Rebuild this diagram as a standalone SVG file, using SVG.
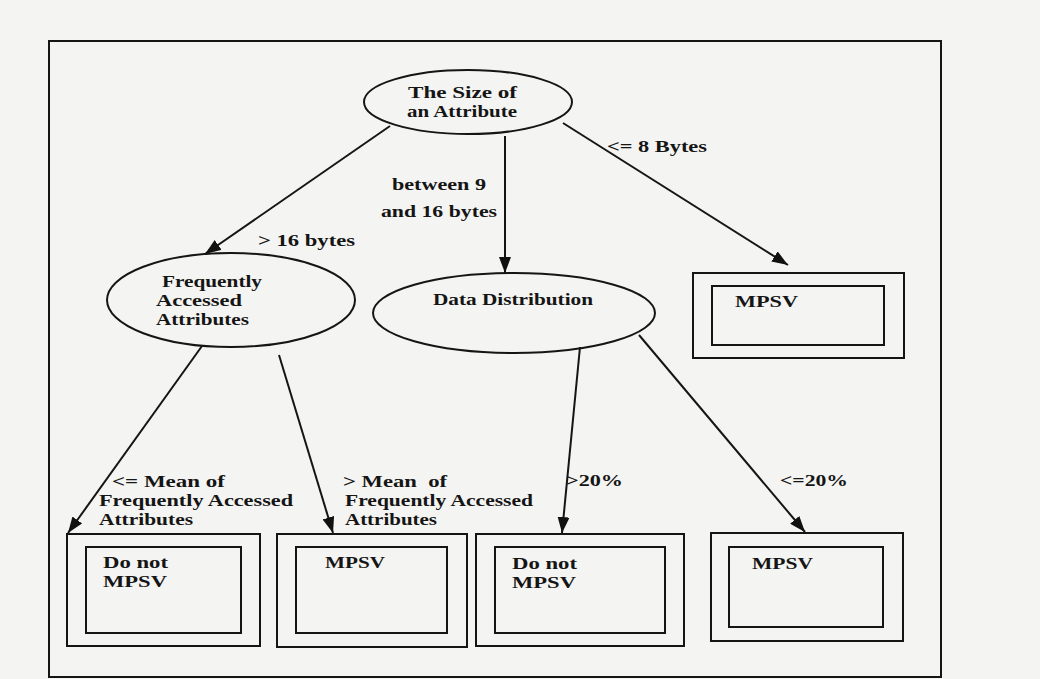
<svg xmlns="http://www.w3.org/2000/svg" width="1040" height="679" viewBox="0 0 1040 679">
<defs>
<marker id="ah" viewBox="0 0 16 12" refX="16" refY="6" markerWidth="16" markerHeight="12" markerUnits="userSpaceOnUse" orient="auto">
<path d="M0,0 L16,6 L0,12 z" fill="#111"/>
</marker>
<style>
.t{font-family:"Liberation Serif","Times New Roman",serif;font-weight:bold;font-size:17px;fill:#151515}
.s{fill:none;stroke:#151515;stroke-width:2}
.c{fill:none;stroke:#151515;stroke-width:2;marker-end:url(#ah)}
</style>
</defs>
<rect x="0" y="0" width="1040" height="679" fill="#f4f4f2"/>
<rect id="frame" x="49" y="41" width="892" height="636" class="s"/>

<g id="connectors">
<line x1="390" y1="126" x2="205" y2="254" class="c"/>
<line x1="505" y1="136" x2="505" y2="273" class="c"/>
<line x1="563" y1="123" x2="788" y2="265" class="c"/>
<line x1="202" y1="346" x2="68" y2="533" class="c"/>
<line x1="279" y1="355" x2="333" y2="533" class="c"/>
<line x1="580" y1="347" x2="562" y2="533" class="c"/>
<line x1="639" y1="335" x2="805" y2="532" class="c"/>
<text class="t" x="607" y="152" textLength="100" lengthAdjust="spacingAndGlyphs">&lt;= 8 Bytes</text>
<text class="t" x="392" y="190" textLength="94" lengthAdjust="spacingAndGlyphs">between 9</text>
<text class="t" x="381" y="217" textLength="116" lengthAdjust="spacingAndGlyphs">and 16 bytes</text>
<text class="t" x="258" y="246" textLength="97" lengthAdjust="spacingAndGlyphs">&gt; 16 bytes</text>
<text class="t" x="112" y="487" textLength="113" lengthAdjust="spacingAndGlyphs">&lt;= Mean of</text>
<text class="t" x="99" y="506" textLength="194" lengthAdjust="spacingAndGlyphs">Frequently Accessed</text>
<text class="t" x="99" y="525" textLength="94" lengthAdjust="spacingAndGlyphs">Attributes</text>
<text class="t" x="343" y="487" textLength="104" lengthAdjust="spacingAndGlyphs" xml:space="preserve">&gt; Mean  of</text>
<text class="t" x="345" y="506" textLength="188" lengthAdjust="spacingAndGlyphs">Frequently Accessed</text>
<text class="t" x="345" y="525" textLength="92" lengthAdjust="spacingAndGlyphs">Attributes</text>
<text class="t" x="566" y="486" textLength="57" lengthAdjust="spacingAndGlyphs">&gt;20%</text>
<text class="t" x="780" y="486" textLength="68" lengthAdjust="spacingAndGlyphs">&lt;=20%</text>
</g>

<g id="n-size">
<ellipse cx="468" cy="102" rx="104" ry="32" class="s"/>
<text class="t" x="408" y="98" textLength="109" lengthAdjust="spacingAndGlyphs">The Size of</text>
<text class="t" x="407" y="117" textLength="110" lengthAdjust="spacingAndGlyphs">an Attribute</text>
</g>

<g id="n-freq">
<ellipse cx="231" cy="300" rx="124" ry="47" class="s"/>
<text class="t" x="162" y="287" textLength="100" lengthAdjust="spacingAndGlyphs">Frequently</text>
<text class="t" x="156" y="306" textLength="86" lengthAdjust="spacingAndGlyphs">Accessed</text>
<text class="t" x="156" y="325" textLength="93" lengthAdjust="spacingAndGlyphs">Attributes</text>
</g>

<g id="n-dist">
<ellipse cx="514" cy="313" rx="141" ry="40" class="s"/>
<text class="t" x="433" y="305" textLength="160" lengthAdjust="spacingAndGlyphs">Data Distribution</text>
</g>

<g id="n-mpsv1">
<rect x="693" y="273" width="211" height="85" class="s"/>
<rect x="712" y="286" width="172" height="59" class="s"/>
<text class="t" x="735" y="307" textLength="63" lengthAdjust="spacingAndGlyphs">MPSV</text>
</g>

<g id="n-donot1">
<rect x="67" y="534" width="193" height="112" class="s"/>
<rect x="86" y="547" width="155" height="86" class="s"/>
<text class="t" x="103" y="568" textLength="65" lengthAdjust="spacingAndGlyphs">Do not</text>
<text class="t" x="103" y="587" textLength="64" lengthAdjust="spacingAndGlyphs">MPSV</text>
</g>

<g id="n-mpsv2">
<rect x="277" y="534" width="190" height="113" class="s"/>
<rect x="296" y="547" width="151" height="86" class="s"/>
<text class="t" x="325" y="568" textLength="60" lengthAdjust="spacingAndGlyphs">MPSV</text>
</g>

<g id="n-donot2">
<rect x="476" y="534" width="208" height="112" class="s"/>
<rect x="495" y="547" width="170" height="86" class="s"/>
<text class="t" x="512" y="569" textLength="65" lengthAdjust="spacingAndGlyphs">Do not</text>
<text class="t" x="512" y="588" textLength="64" lengthAdjust="spacingAndGlyphs">MPSV</text>
</g>

<g id="n-mpsv3">
<rect x="711" y="533" width="192" height="108" class="s"/>
<rect x="729" y="547" width="154" height="80" class="s"/>
<text class="t" x="752" y="569" textLength="61" lengthAdjust="spacingAndGlyphs">MPSV</text>
</g>
</svg>
